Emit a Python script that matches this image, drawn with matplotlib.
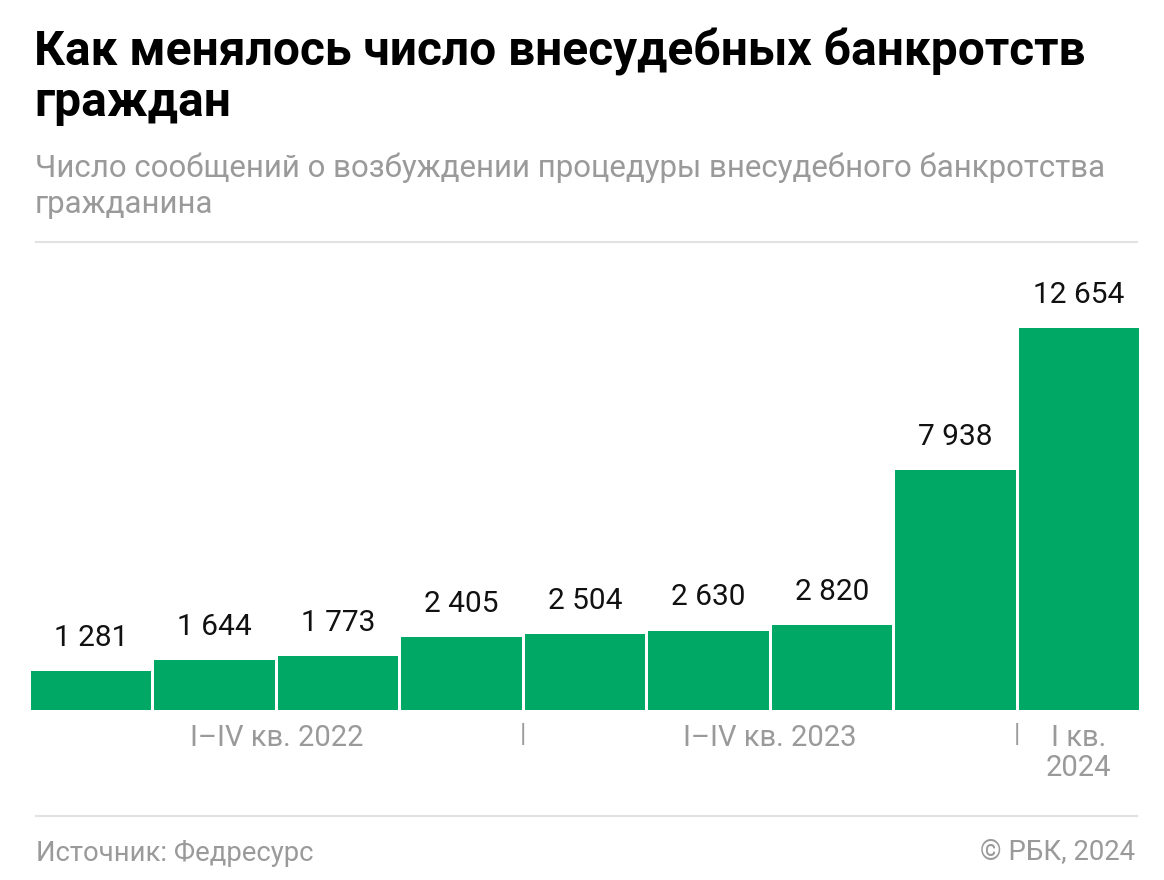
import matplotlib; matplotlib.use("Agg")
import matplotlib.pyplot as plt

# data
quarters = ["I 2022", "II 2022", "III 2022", "IV 2022",
            "I 2023", "II 2023", "III 2023", "IV 2023", "I 2024"]
counts = [1281, 1644, 1773, 2405, 2504, 2630, 2820, 7938, 12654]
group_labels = ["I–IV кв. 2022", "I–IV кв. 2023", "I кв.\n2024"]
group_spans = [(0, 3), (4, 7), (8, 8)]

GREEN = "#00a866"
GRAY = "#9a9a9a"
FONT = "Roboto"

W, H = 1164, 880
fig = plt.figure(figsize=(W / 100, H / 100), dpi=100)

def fx(px): return px / W
def fy(py): return 1 - py / H

# title / subtitle
fig.text(fx(34), fy(77), "Как менялось число внесудебных банкротств\nграждан",
         fontsize=34.5, fontweight="bold", family=FONT, va="center", ha="left",
         linespacing=1.1, color="black")
fig.text(fx(35), fy(186), "Число сообщений о возбуждении процедуры внесудебного банкротства\nгражданина",
         fontsize=22.5, family=FONT, va="center", ha="left", color=GRAY, linespacing=1.3)

# separator lines
for y in (242, 816):
    fig.add_artist(plt.Line2D([fx(36), fx(1137)], [fy(y), fy(y)], color="#e2e2e2", lw=1.5))

# bars
W_BAR = 0.975
ax = fig.add_axes([fx(31), fy(710), fx(1139 - 31), fy(250) - fy(710)])
x = range(len(counts))
ax.bar(x, counts, width=W_BAR, color=GREEN, linewidth=0)
for i, v in enumerate(counts):
    ax.text(i, v + 640, f"{v:,}".replace(",", " "), ha="center", va="bottom",
            fontsize=21.5, family=FONT, color="#111111")
ax.set_xlim(-W_BAR / 2, len(counts) - 1 + W_BAR / 2)
ax.set_ylim(0, 15240)
ax.axis("off")

# group labels and dividers
for lab, (a, b) in zip(group_labels, group_spans):
    ax.text((a + b) / 2, -450, lab, ha="center", va="top", fontsize=21,
            family=FONT, color=GRAY, linespacing=1.1)
for a, b in group_spans[:-1]:
    ax.text(b + 0.5, -430, "|", ha="center", va="top", fontsize=19,
            family=FONT, color=GRAY)

# footer
fig.text(fx(36), fy(853), "Источник: Федресурс", fontsize=19.8, family=FONT,
         color=GRAY, va="center", ha="left")
fig.text(fx(1135), fy(853), "© РБК, 2024", fontsize=19.8, family=FONT,
         color=GRAY, va="center", ha="right")

fig.savefig("out.png", dpi=100, facecolor="white")
